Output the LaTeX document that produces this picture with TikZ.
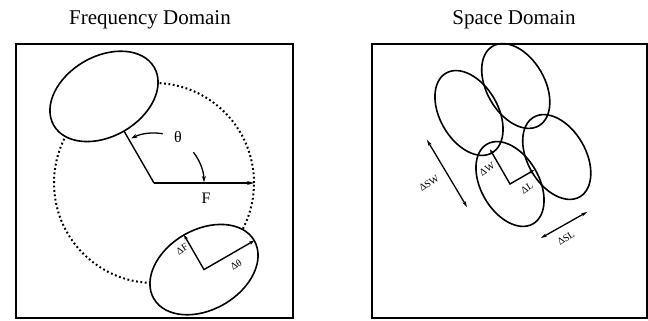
\documentclass[tikz,border=0pt]{standalone}
\usepackage{fontspec}
\setmainfont{Liberation Serif}
\usetikzlibrary{arrows.meta}

\begin{document}
\begin{tikzpicture}[x=1pt,y=1pt,
    blob/.style={line width=1.6pt},
    frame/.style={line width=1.3pt},
    vec/.style={line width=1.4pt},
    dbl/.style={line width=1.3pt,{Stealth[length=6pt,width=3.5pt]}-{Stealth[length=6pt,width=3.5pt]}},
    tiny/.style={font=\fontsize{10}{11}\selectfont,rotate=33,inner sep=0pt},
    big/.style={font=\fontsize{21}{24}\selectfont,anchor=base}]
\useasboundingbox (0,0) rectangle (648,321);

% frequency domain
\node[big] (ftitle) at (150,296) {Frequency Domain};
\draw[frame] (16,3) rectangle (293,277);
\coordinate (O) at (154,138);
\draw[line width=2pt,dash pattern=on 1.8pt off 2.6pt] (O) circle[radius=100pt];
\path (O) ++(120:100pt) coordinate (Ftop);
\path (O) ++(-60:100pt) coordinate (Fbot);
\path (O) ++(120:60pt) coordinate (Fedge);
\path (O) ++(0:100pt) coordinate (Fend);
\draw[blob,fill=white,rotate around={30:(Ftop)}] (Ftop) ellipse[x radius=58pt,y radius=40pt];
\begin{scope}[shift={(Fbot)},rotate=30]
    \draw[blob,fill=white] (0,0) ellipse[x radius=58pt,y radius=40pt];
    \coordinate (Fc) at (0,0);
    \coordinate (dF) at (0,40);
    \coordinate (dT) at (58,0);
\end{scope}
\draw[vec] (Fedge) -- (O);
\draw[vec,-{Stealth[length=7pt,width=4pt]}] (O) -- (Fend);
\draw[vec,{Stealth[length=5pt,width=3.5pt]}-{Stealth[length=5pt,width=3.5pt]}] (dF) -- (Fc) -- (dT);
\draw[line width=1.3pt,-{Stealth[length=6pt,width=4pt]}] (O) ++(80:50pt) arc[start angle=80,end angle=117,radius=50pt];
\draw[line width=1.3pt,-{Stealth[length=6pt,width=4pt]}] (O) ++(38:50pt) arc[start angle=38,end angle=1,radius=50pt];
\node[font=\fontsize{16}{18}\selectfont] (theta) at (178,184) {θ};
\node[font=\fontsize{16}{18}\selectfont,anchor=base] (flab) at (206,117) {F};
\node[tiny] (dflab) at (182,72) {ΔF};
\node[tiny] (dtlab) at (236,56) {Δθ};

% space domain
\node[big] (stitle) at (514,296) {Space Domain};
\draw[frame] (372,3) rectangle (647,277);
\coordinate (D) at (510,137);
\path (D) ++(120:82pt) coordinate (B);
\path (D) ++(30:54pt) coordinate (C);
\path (B) ++(30:54pt) coordinate (A);
\foreach \e in {A,B,C,D}
    \draw[blob,rotate around={120:(\e)}] (\e) ellipse[x radius=46pt,y radius=29pt];
\path (D) ++(120:40pt) coordinate (dW);
\path (D) ++(30:28pt) coordinate (dL);
\draw[vec,{Stealth[length=5pt,width=3.5pt]}-{Stealth[length=5pt,width=3.5pt]}] (dW) -- (D) -- (dL);
\coordinate (sw1) at (427,181);
\coordinate (sw2) at (467,114);
\coordinate (sl1) at (541,83);
\coordinate (sl2) at (587,109);
\draw[dbl] (sw1) -- (sw2);
\draw[dbl] (sl1) -- (sl2);
\node[tiny] (swlab) at (429,138) {ΔSW};
\node[tiny] (wlab) at (487,152) {ΔW};
\node[tiny] (llab) at (527,133) {ΔL};
\node[tiny] (sllab) at (566,83) {ΔSL};
\end{tikzpicture}
\end{document}
